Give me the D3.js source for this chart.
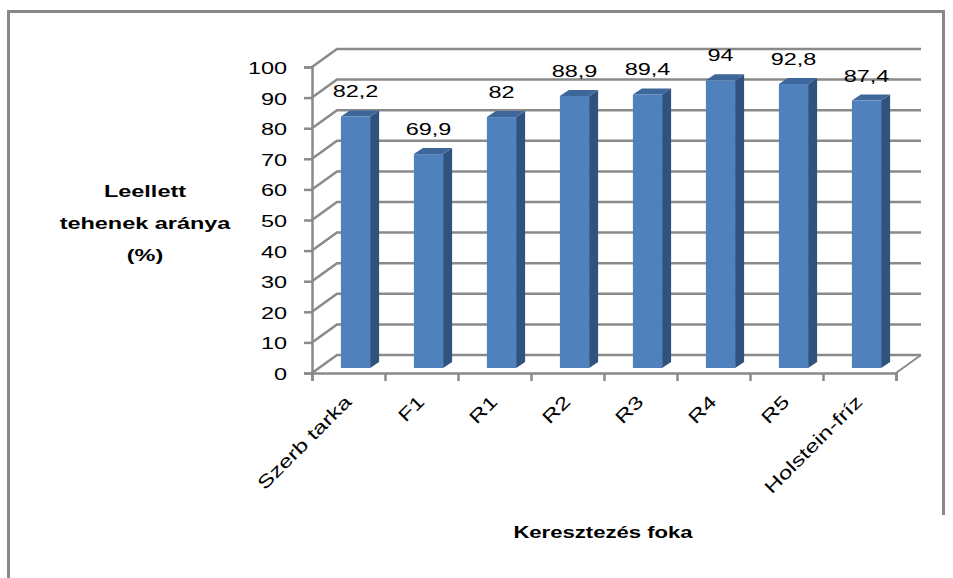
<!DOCTYPE html>
<html>
<head>
<meta charset="utf-8">
<script src="https://cdn.jsdelivr.net/npm/d3@7"></script>
<style>
body { margin: 0; background: #fff; }
text { font-family: "Liberation Sans", Arial, sans-serif; fill: #000; }
</style>
</head>
<body>
<div id="chart"></div>
<script>
// data
var categories = ["Szerb tarka", "F1", "R1", "R2", "R3", "R4", "R5", "Holstein-fríz"];
var values = [82.2, 69.9, 82, 88.9, 89.4, 94, 92.8, 87.4];
var valueLabels = ["82,2", "69,9", "82", "88,9", "89,4", "94", "92,8", "87,4"];
var yTicks = [0, 10, 20, 30, 40, 50, 60, 70, 80, 90, 100];
var yTitle = ["Leellett", "tehenek aránya", "(%)"];
var xTitle = "Keresztezés foka";

var W = 953, H = 578;
var plotL = 312, plotR = 896, plotB = 373, plotT = 67;
var wall = {dx: 25, dy: -18};   // back wall offset
var plane = {dx: 7, dy: -5};    // where the bars stand
var depth = {dx: 9, dy: -6};    // bar depth
var sx = 1.38;                  // the text in the picture is stretched sideways
var grid = "#8a8a8a";

var svg = d3.select("#chart").append("svg")
  .attr("width", W).attr("height", H);

// frame
svg.append("path")
  .attr("d", "M8.5,578 V11.5 H943.5 V515")
  .attr("fill", "none").attr("stroke", "#888").attr("stroke-width", 3);

var x = d3.scaleBand()
  .domain(categories)
  .range([plotL, plotR])
  .paddingInner(0.6)
  .paddingOuter(0.3);

var y = d3.scaleLinear()
  .domain([0, 100])
  .range([plotB, plotT]);

// side wall + back wall gridlines
svg.append("g")
  .selectAll("polyline")
  .data(yTicks)
  .join("polyline")
    .attr("points", d => [[plotL, y(d)], [plotL + wall.dx, y(d) + wall.dy], [plotR + wall.dx, y(d) + wall.dy]].join(" "))
    .attr("fill", "none")
    .attr("stroke", grid)
    .attr("stroke-width", 2.5);

// floor right edge
svg.append("line")
  .attr("x1", plotR).attr("y1", y(0))
  .attr("x2", plotR + wall.dx).attr("y2", y(0) + wall.dy)
  .attr("stroke", grid).attr("stroke-width", 2);

// bars
var bars = svg.append("g")
  .selectAll("g")
  .data(categories)
  .join("g");

var bx0 = d => x(d) + plane.dx;
var bx1 = d => x(d) + plane.dx + x.bandwidth();
var byTop = (d, i) => y(values[i]) + plane.dy;
var byBot = y(0) + plane.dy;

bars.append("polygon")
  .attr("points", (d, i) => [[bx1(d), byTop(d, i)], [bx1(d) + depth.dx, byTop(d, i) + depth.dy],
    [bx1(d) + depth.dx, byBot + depth.dy], [bx1(d), byBot]].join(" "))
  .attr("fill", "#30527f");

bars.append("polygon")
  .attr("points", (d, i) => [[bx0(d), byTop(d, i)], [bx0(d) + depth.dx, byTop(d, i) + depth.dy],
    [bx1(d) + depth.dx, byTop(d, i) + depth.dy], [bx1(d), byTop(d, i)]].join(" "))
  .attr("fill", "#3d669b");

bars.append("rect")
  .attr("x", bx0)
  .attr("y", byTop)
  .attr("width", x.bandwidth())
  .attr("height", (d, i) => byBot - byTop(d, i))
  .attr("fill", "#4f81bd");

// value labels
bars.append("text")
  .attr("transform", (d, i) => `translate(${bx0(d) + x.bandwidth() / 2},${byTop(d, i) - 19}) scale(${sx},1)`)
  .attr("text-anchor", "middle")
  .style("font-size", "17px")
  .text((d, i) => valueLabels[i]);

// y axis
var yAxis = svg.append("g")
  .attr("transform", `translate(${plotL},0)`)
  .call(d3.axisLeft(y).tickValues(yTicks).tickSize(8).tickFormat(""));
yAxis.selectAll("path, line").attr("stroke", grid).attr("stroke-width", 2.5);

svg.append("g")
  .selectAll("text")
  .data(yTicks)
  .join("text")
    .attr("transform", d => `translate(287,${y(d) + 7}) scale(${sx},1)`)
    .attr("text-anchor", "end")
    .style("font-size", "17px")
    .text(d => d);

// x axis: ticks on the category edges
var xEdge = d3.scaleLinear().domain([0, categories.length]).range([plotL, plotR]);
var xAxis = svg.append("g")
  .attr("transform", `translate(0,${plotB})`)
  .call(d3.axisBottom(xEdge).tickValues(d3.range(categories.length + 1)).tickSize(8).tickFormat(""));
xAxis.selectAll("path, line").attr("stroke", grid).attr("stroke-width", 2.5);

svg.append("g")
  .selectAll("text")
  .data(categories)
  .join("text")
    .attr("transform", d => `translate(${x(d) + x.bandwidth() / 2 + 4},${plotB + 30}) rotate(-45) scale(1.35,1)`)
    .attr("text-anchor", "end")
    .style("font-size", "18px")
    .text(d => d);

// titles
svg.append("g")
  .selectAll("text")
  .data(yTitle)
  .join("text")
    .attr("transform", (d, i) => `translate(145,${197 + i * 32}) scale(${sx},1)`)
    .attr("text-anchor", "middle")
    .style("font-size", "17px")
    .style("font-weight", "bold")
    .text(d => d);

svg.append("text")
  .attr("transform", `translate(603,538) scale(1.3,1)`)
  .attr("text-anchor", "middle")
  .style("font-size", "17px")
  .style("font-weight", "bold")
  .text(xTitle);
</script>
</body>
</html>
